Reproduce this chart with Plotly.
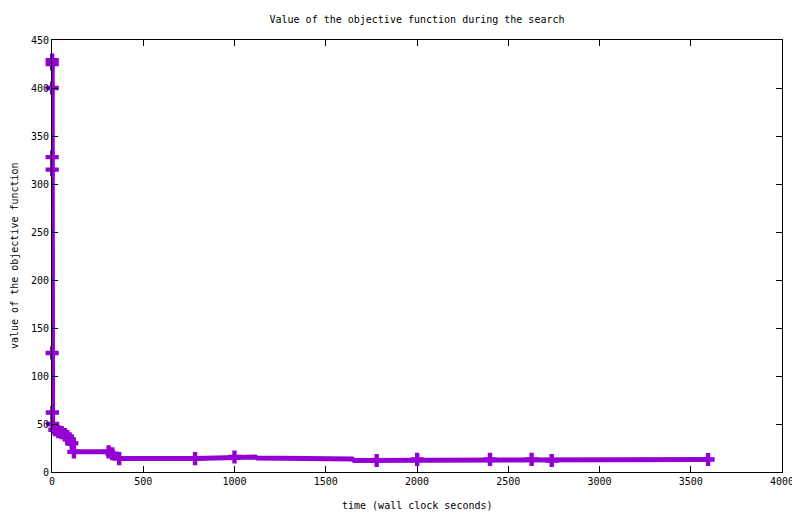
import plotly.graph_objects as go

# Line vertices (time in wall clock seconds, objective value)
line_time = [1, 1, 1, 1, 1, 1, 2, 3, 16, 35, 53, 71, 84, 95, 108, 120,
             310, 330, 368, 784, 885, 895, 1000, 1115, 1125, 1380, 1390,
             1645, 1655, 1779, 1885, 1895, 2001, 2400, 2628, 2680, 2690,
             2738, 3150, 3160, 3595]
line_value = [429, 425, 400, 328, 315, 124, 62, 50, 44, 42, 41, 39, 37, 34, 30, 21,
              21, 19, 14, 14, 14.3, 15.6, 15.6, 15.6, 14.5, 14.5, 13.5,
              13.5, 12, 12, 12, 13.2, 13.2, 13.2, 13.2, 13.2, 12,
              12, 12, 13, 13]

# Points drawn with markers
mark_time = [1, 1, 1, 1, 1, 1, 2, 3, 16, 35, 53, 71, 84, 95, 108, 120,
             310, 330, 368, 784, 1000, 1779, 2001, 2400, 2628, 2738, 3595]
mark_value = [429, 425, 400, 328, 315, 124, 62, 50, 44, 42, 41, 39, 37, 34, 30, 21,
              21, 19, 14, 14, 15.6, 12, 13.2, 13.2, 13.2, 12, 13]

x_ticks = [0, 500, 1000, 1500, 2000, 2500, 3000, 3500, 4000]
y_ticks = [0, 50, 100, 150, 200, 250, 300, 350, 400, 450]

color = "#9400D3"
font = dict(family="DejaVu Sans Mono", size=10, color="black")

fig = go.Figure()
fig.add_trace(go.Scatter(
    x=line_time, y=line_value, mode="lines",
    line=dict(color=color, width=5), showlegend=False, hoverinfo="skip",
    cliponaxis=False))
fig.add_trace(go.Scatter(
    x=mark_time, y=mark_value, mode="markers",
    marker=dict(symbol="cross", size=11, color=color, line=dict(width=0)),
    showlegend=False, cliponaxis=False))

axis_common = dict(
    showgrid=False, zeroline=False, showline=True, linecolor="black",
    linewidth=1, mirror="ticks", ticks="inside", ticklen=6,
    tickcolor="black", tickwidth=1, tickfont=font, automargin=False,
)

# page body has an 8px margin, so the figure is sized 792x506
fig.update_layout(
    width=792, height=506,
    margin=dict(l=44, r=18, t=32, b=42, autoexpand=False),
    paper_bgcolor="white", plot_bgcolor="white",
    font=font,
    title=dict(text="Value of the objective function during the search",
               xref="paper", x=0.5, xanchor="center",
               yref="container", y=1 - 11 / 506, yanchor="middle",
               font=font, automargin=False),
    xaxis=dict(range=[0, 4000], tickvals=x_ticks,
               ticktext=[str(v) for v in x_ticks], **axis_common),
    yaxis=dict(range=[0, 450], tickvals=y_ticks,
               ticktext=[str(v) for v in y_ticks], **axis_common),
    annotations=[
        dict(text="time (wall clock seconds)", xref="paper", yref="paper",
             x=0.5, y=-33 / 432, xanchor="center", yanchor="middle",
             showarrow=False, font=font),
        dict(text="value of the objective function", xref="paper", yref="paper",
             x=-38 / 730, y=0.5, xanchor="center", yanchor="middle",
             textangle=-90, showarrow=False, font=font),
    ],
)

fig.write_html("out.html")
